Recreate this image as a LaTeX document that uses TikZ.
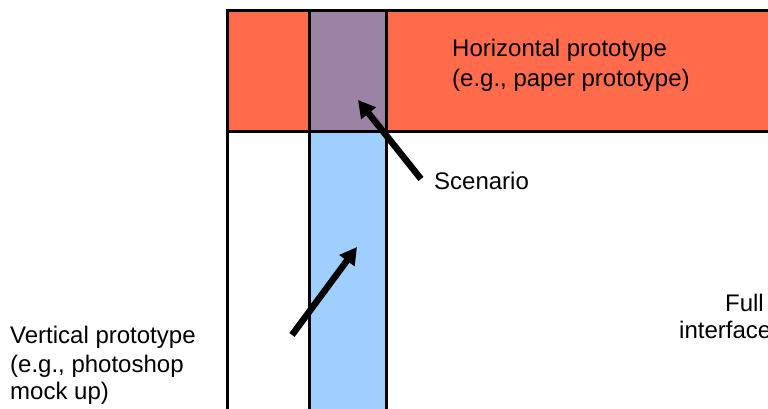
\documentclass[tikz,border=0pt]{standalone}
\usepackage{fontspec}
\setmainfont{Liberation Sans}
\usetikzlibrary{arrows.meta}
\definecolor{hred}{HTML}{FF6B4B}
\definecolor{vblue}{HTML}{9FCFFF}
\definecolor{opurple}{HTML}{9B83A3}
\begin{document}
\begin{tikzpicture}[x=1pt,y=-1pt,
  box/.style={draw=black, line width=3pt, rectangle, inner sep=0pt, anchor=north west},
  lbl/.style={font=\fontsize{24}{30}\selectfont, inner sep=0pt, text=black},
  arr/.style={line width=6.5pt, -{Triangle[length=17pt,width=18pt]}}]
\useasboundingbox (0,0) rectangle (768,409);
\clip (0,0) rectangle (768,409);
\node[box, minimum width=600pt, minimum height=450pt] (frame) at (225.5,9.5) {};
\node[box, fill=hred, minimum width=600pt, minimum height=120.5pt] (band) at (225.5,9.5) {};
\node[box, fill=vblue, minimum width=77pt, minimum height=450pt] (column) at (308,9) {};
\node[box, fill=opurple, minimum width=77pt, minimum height=121pt] (overlap) at (308,9) {};
% labels
\node[lbl, anchor=base west] (h1) at (452,57) {Horizontal prototype};
\node[lbl, anchor=base west] (h2) at (452,87) {(e.g., paper prototype)};
\node[lbl, anchor=base west] (scen) at (434,189) {Scenario};
\node[lbl, anchor=base west] (v1) at (10,343) {Vertical prototype};
\node[lbl, anchor=base west] (v2) at (10,372) {(e.g., photoshop};
\node[lbl, anchor=base west] (v3) at (10,399) {mock up)};
\node[lbl, anchor=base east] (f1) at (764,311) {Full};
\node[lbl, anchor=base west] (f2) at (679,338) {interface};
% arrows
\coordinate (stail) at (421,179);
\coordinate (stip) at (358,100);
\coordinate (vtail) at (292,335);
\coordinate (vtip) at (357,247);
\draw[arr] (stail) -- (stip);
\draw[arr] (vtail) -- (vtip);
\end{tikzpicture}
\end{document}
